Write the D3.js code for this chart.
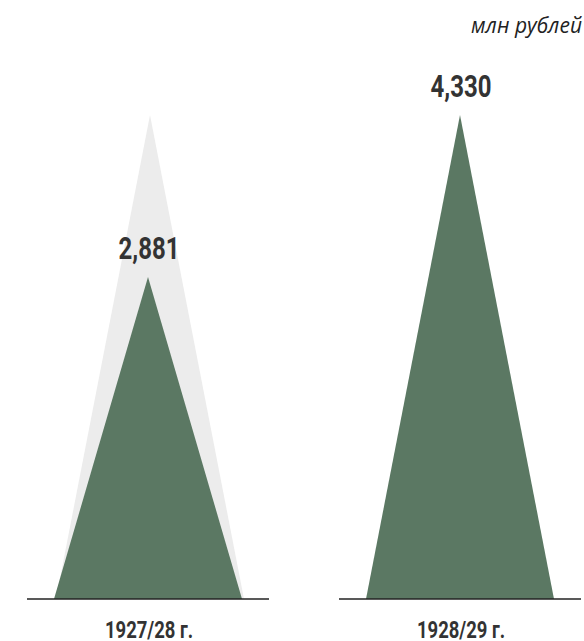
<!DOCTYPE html>
<html>
<head>
  <meta charset="utf-8">
  <title>млн рублей</title>
  <script src="https://d3js.org/d3.v7.min.js"></script>
  <style>
    body { margin: 0; background: #fff; }
    .num { font-family: Roboto, "DejaVu Sans Condensed", sans-serif; font-weight: bold; fill: #333; }
  </style>
</head>
<body>
  <svg width="584" height="641"></svg>

  <script>
    // данные
    const years = ["1927/28 г.", "1928/29 г."];
    const values = [2881, 4330];
    const ghost = [4330, null];   // серый силуэт за первым треугольником
    const valueLabels = ["2,881", "4,330"];
    const unit = "млн рублей";

    const svg = d3.select("svg");
    const baseY = 599;
    const squeeze = 0.75;   // сжатый шрифт

    const x = d3.scalePoint().domain(years).range([148, 460]);
    const y = d3.scaleLinear().domain([0, 4330]).range([baseY, 115]);
    const halfBase = 94;

    const tri = (cx, v) => `M${cx - halfBase},${baseY}L${cx},${y(v)}L${cx + halfBase},${baseY}Z`;

    // серые силуэты
    svg.selectAll(".ghost")
      .data(years.map((d, i) => ({ year: d, v: ghost[i] })).filter(d => d.v))
      .enter().append("path")
      .attr("d", d => tri(x(d.year) + 2, d.v))
      .attr("fill", "#ececec");

    // треугольники
    svg.selectAll(".tri")
      .data(years)
      .enter().append("path")
      .attr("d", (d, i) => tri(x(d), values[i]))
      .attr("fill", "#5b7863");

    // базовые линии
    svg.selectAll(".base")
      .data(years)
      .enter().append("line")
      .attr("x1", d => x(d) - 121)
      .attr("x2", d => Math.min(584, x(d) + 121))
      .attr("y1", baseY).attr("y2", baseY)
      .attr("stroke", "#222").attr("stroke-width", 1.5);

    // значения
    svg.selectAll(".val")
      .data(years)
      .enter().append("text")
      .attr("class", "num")
      .attr("transform", (d, i) => `translate(${x(d) + 1},${y(values[i]) - 18}) scale(${squeeze},1)`)
      .attr("text-anchor", "middle")
      .style("font-size", "32px")
      .text((d, i) => valueLabels[i]);

    // подписи лет
    svg.selectAll(".year")
      .data(years)
      .enter().append("text")
      .attr("class", "num")
      .attr("transform", d => `translate(${x(d) + 1},638) scale(${squeeze + 0.02},1)`)
      .attr("text-anchor", "middle")
      .style("font-size", "24px")
      .text(d => d);

    svg.append("text")
      .attr("x", 582)
      .attr("y", 33)
      .attr("text-anchor", "end")
      .style("font-family", "'Open Sans', sans-serif")
      .style("font-style", "italic")
      .style("font-size", "21px")
      .style("fill", "#222")
      .text(unit);
  </script>
</body>
</html>
